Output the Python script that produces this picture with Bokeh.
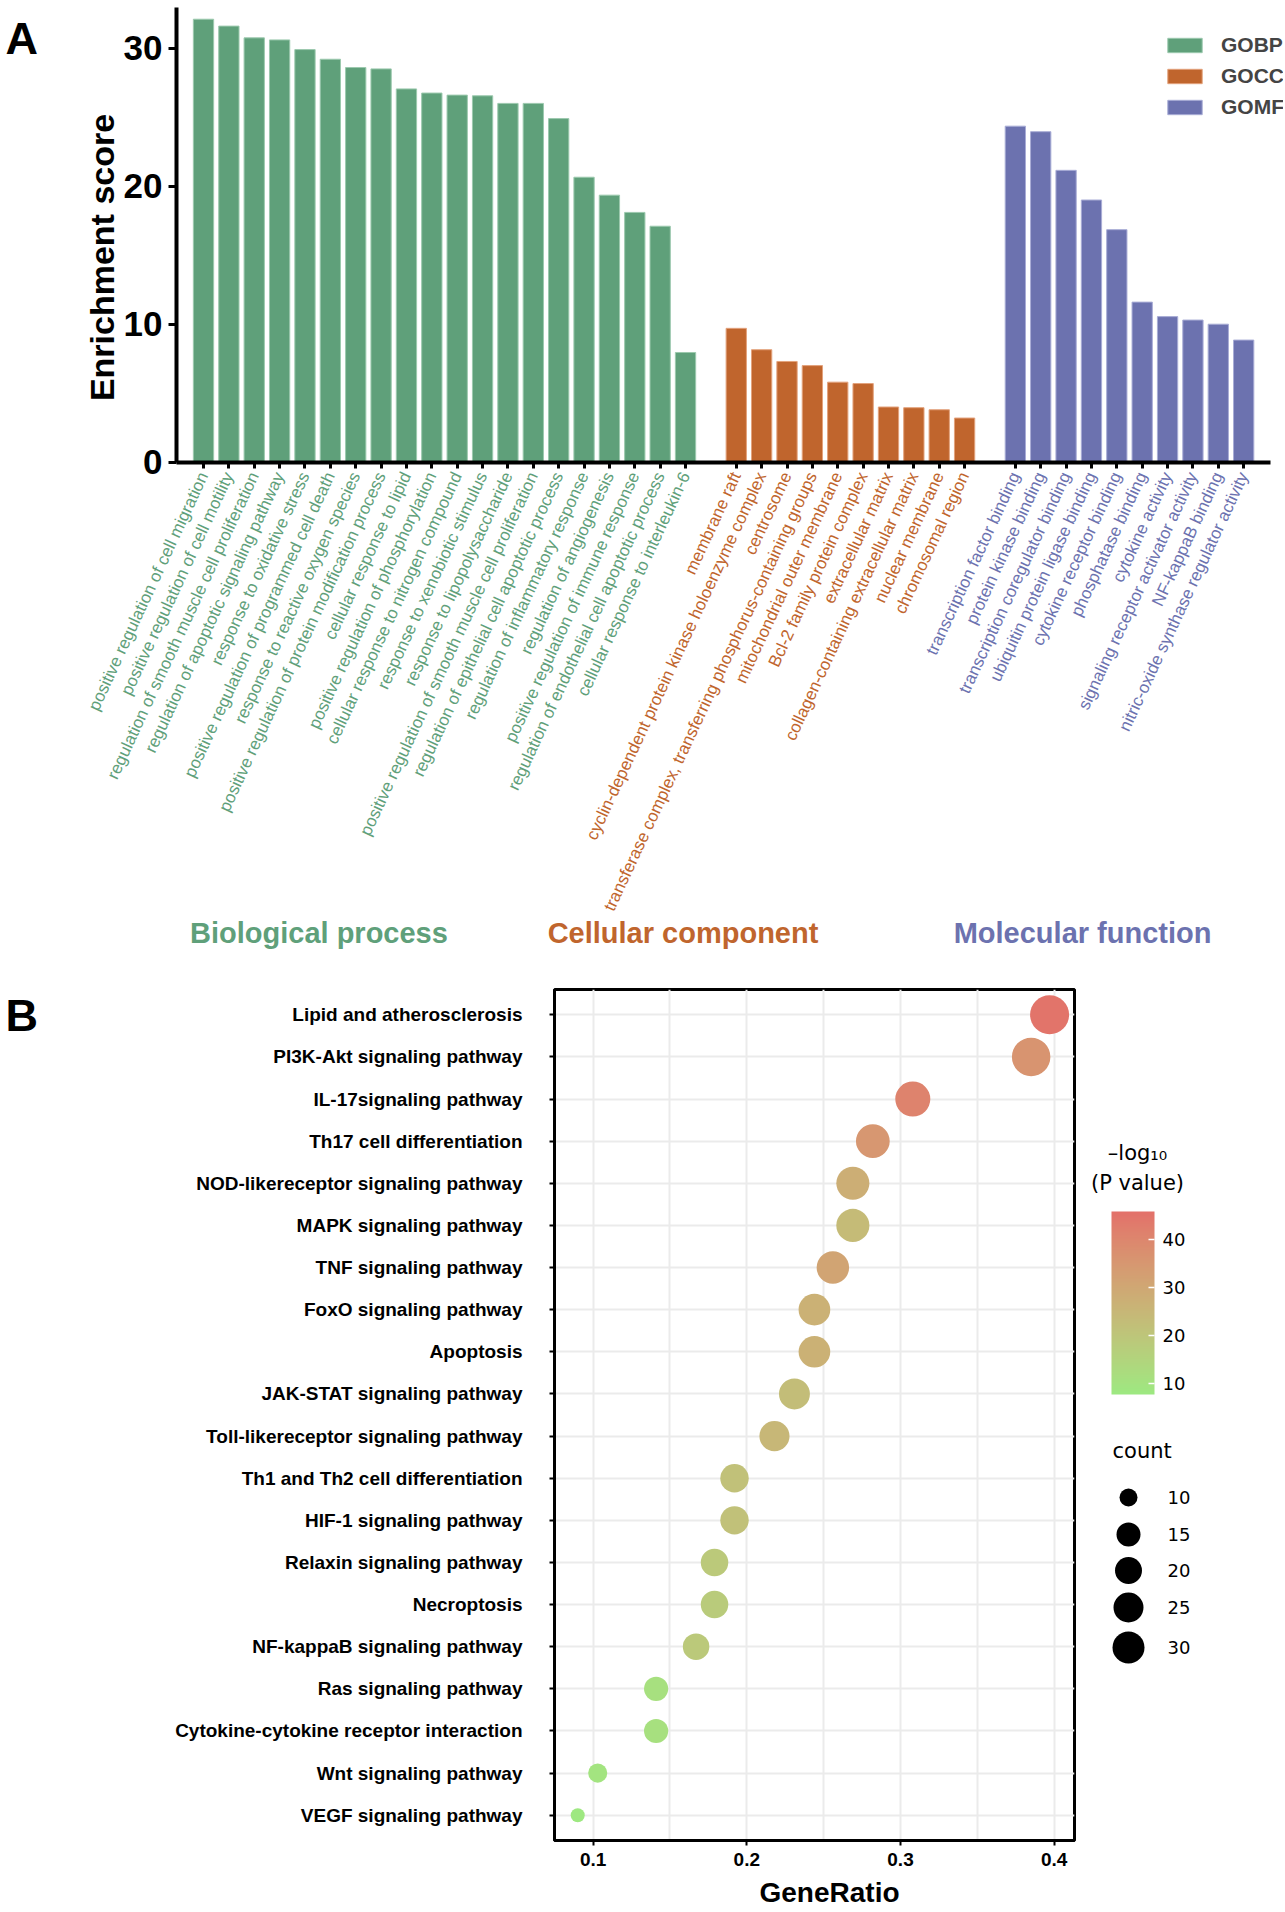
import math
from bokeh.plotting import figure
from bokeh.models import (Range1d, LinearAxis, FixedTicker, ColumnDataSource, Legend, LegendItem,
                          LinearColorMapper, ColorBar)
from bokeh.layouts import column, row
from bokeh.core.properties import value
from bokeh.embed import file_html
from bokeh.resources import INLINE

# ---------------- data: panel A (GO enrichment) ----------------
bp_terms = [
    "positive regulation of cell migration",
    "positive regulation of cell motility",
    "regulation of smooth muscle cell proliferation",
    "regulation of apoptotic signaling pathway",
    "response to oxidative stress",
    "positive regulation of programmed cell death",
    "response to reactive oxygen species",
    "positive regulation of protein modification process",
    "cellular response to lipid",
    "positive regulation of phosphorylation",
    "cellular response to nitrogen compound",
    "response to xenobiotic stimulus",
    "response to lipopolysaccharide",
    "positive regulation of smooth muscle cell proliferation",
    "regulation of epithelial cell apoptotic process",
    "regulation of inflammatory response",
    "regulation of angiogenesis",
    "positive regulation of immune response",
    "regulation of endothelial cell apoptotic process",
    "cellular response to interleukin-6",
]
bp_scores = [32.1, 31.6, 30.75, 30.6, 29.9, 29.2, 28.6, 28.5, 27.05, 26.75,
             26.6, 26.55, 26.0, 26.0, 24.9, 20.65, 19.35, 18.1, 17.1, 7.95]

cc_terms = [
    "membrane raft",
    "cyclin-dependent protein kinase holoenzyme complex",
    "centrosome",
    "transferase complex, transferring phosphorus-containing groups",
    "mitochondrial outer membrane",
    "Bcl-2 family protein complex",
    "extracellular matrix",
    "collagen-containing extracellular matrix",
    "nuclear membrane",
    "chromosomal region",
]
cc_scores = [9.7, 8.15, 7.3, 7.0, 5.8, 5.7, 4.0, 3.95, 3.8, 3.2]

mf_terms = [
    "transcription factor binding",
    "protein kinase binding",
    "transcription coregulator binding",
    "ubiquitin protein ligase binding",
    "cytokine receptor binding",
    "phosphatase binding",
    "cytokine activity",
    "signaling receptor activator activity",
    "NF-kappaB binding",
    "nitric-oxide synthase regulator activity",
]
mf_scores = [24.35, 23.95, 21.15, 19.0, 16.85, 11.6, 10.55, 10.3, 10.0, 8.85]

group_names = ["GOBP", "GOCC", "GOMF"]
group_titles = ["Biological process", "Cellular component", "Molecular function"]
y_ticks_a = [0, 10, 20, 30]

# ---------------- data: panel B (KEGG dot plot) ----------------
pathways = [
    "Lipid and atherosclerosis",
    "PI3K-Akt signaling pathway",
    "IL-17signaling pathway",
    "Th17 cell differentiation",
    "NOD-likereceptor signaling pathway",
    "MAPK signaling pathway",
    "TNF signaling pathway",
    "FoxO signaling pathway",
    "Apoptosis",
    "JAK-STAT signaling pathway",
    "Toll-likereceptor signaling pathway",
    "Th1 and Th2 cell differentiation",
    "HIF-1 signaling pathway",
    "Relaxin signaling pathway",
    "Necroptosis",
    "NF-kappaB signaling pathway",
    "Ras signaling pathway",
    "Cytokine-cytokine receptor interaction",
    "Wnt signaling pathway",
    "VEGF signaling pathway",
]
gene_ratio = [0.397, 0.385, 0.308, 0.282, 0.269, 0.269, 0.256, 0.244, 0.244, 0.231,
              0.218, 0.192, 0.192, 0.179, 0.179, 0.167, 0.141, 0.141, 0.103, 0.090]
counts = [31, 30, 24, 22, 21, 21, 20, 19, 19, 18, 17, 15, 15, 14, 14, 13, 11, 11, 8, 7]
neglog10_p = [45.0, 36.0, 41.0, 35.0, 28.0, 23.5, 31.0, 27.0, 27.0, 23.0,
              25.0, 21.5, 21.5, 19.0, 18.0, 19.0, 11.0, 11.0, 9.5, 8.0]
x_ticks_b = [0.1, 0.2, 0.3, 0.4]
x_minor_b = [0.15, 0.25, 0.35]
cbar_ticks = [10, 20, 30, 40]
size_legend_counts = [10, 15, 20, 25, 30]

# ---------------- styles ----------------
COLORS = ["#5FA07A", "#C0652D", "#6C72AF"]
EDGES = ["#9CC9AE", "#E3A27C", "#A9ADD6"]
LOW_COL, HIGH_COL = "#9DE981", "#E3716A"
P_LOW, P_HIGH = 7.7, 45.8
FONT = "Liberation Sans"
LEGFONT = "DejaVu Sans"

# ---------------- helpers: Lab gradient (ggplot-like) ----------------
def _lin(c):
    return c / 12.92 if c <= 0.04045 else ((c + 0.055) / 1.055) ** 2.4

def _gam(c):
    c = min(max(c, 0.0), 1.0)
    return 12.92 * c if c <= 0.0031308 else 1.055 * c ** (1 / 2.4) - 0.055

def _hex2lab(h):
    r, g, b = [_lin(int(h[i:i + 2], 16) / 255) for i in (1, 3, 5)]
    X = (0.4124 * r + 0.3576 * g + 0.1805 * b) / 0.95047
    Y = (0.2126 * r + 0.7152 * g + 0.0722 * b) / 1.0
    Z = (0.0193 * r + 0.1192 * g + 0.9505 * b) / 1.08883
    f = lambda t: t ** (1 / 3) if t > 0.008856 else 7.787 * t + 16 / 116
    fx, fy, fz = f(X), f(Y), f(Z)
    return (116 * fy - 16, 500 * (fx - fy), 200 * (fy - fz))

def _lab2hex(L, a, b):
    fy = (L + 16) / 116
    fx = fy + a / 500
    fz = fy - b / 200
    finv = lambda t: t ** 3 if t ** 3 > 0.008856 else (t - 16 / 116) / 7.787
    X, Y, Z = finv(fx) * 0.95047, finv(fy), finv(fz) * 1.08883
    r = 3.2406 * X - 1.5372 * Y - 0.4986 * Z
    g = -0.9689 * X + 1.8758 * Y + 0.0415 * Z
    bb = 0.0557 * X - 0.2040 * Y + 1.0570 * Z
    return "#%02x%02x%02x" % tuple(int(round(_gam(v) * 255)) for v in (r, g, bb))

l0, l1 = _hex2lab(LOW_COL), _hex2lab(HIGH_COL)
palette = [_lab2hex(*[l0[k] + (l1[k] - l0[k]) * t / 255 for k in range(3)]) for t in range(256)]

# ================= layout constants (canvas px) =================
W = 1283          # total canvas width
HA = 983          # panel A height
HB = 893          # panel B height (plot + tick labels)
HG = 34           # strip holding the GeneRatio title
PXX = 25.37       # px per bar slot
PXY = 13.8        # px per enrichment unit
X_POS0 = 203.0    # canvas x of bar position 0
Y_ZERO = 461.7    # canvas y of enrichment 0
AXIS_X = 176.0    # canvas x of the y axis

# ================= PANEL A =================
xr0 = -X_POS0 / PXX
xr1 = (W - X_POS0) / PXX
yr1 = Y_ZERO / PXY
yr0 = -(HA - Y_ZERO) / PXY
x_axis_pos = (AXIS_X - X_POS0) / PXX

def ax_x(px):
    return (px - X_POS0) / PXX

def ax_y(px):
    return (Y_ZERO - px) / PXY

pA = figure(width=W, height=HA, x_range=Range1d(xr0, xr1), y_range=Range1d(yr0, yr1),
            min_border_left=0, min_border_right=0, min_border_top=0, min_border_bottom=0,
            toolbar_location=None, output_backend="svg",
            x_axis_location=None, y_axis_location=None)
pA.outline_line_color = None
pA.xgrid.visible = False
pA.ygrid.visible = False

groups_terms = [bp_terms, cc_terms, mf_terms]
groups_scores = [bp_scores, cc_scores, mf_scores]
renderers, group_x = [], []
start = 0
for gi in range(3):
    xs = [start + i for i in range(len(groups_terms[gi]))]
    src = ColumnDataSource(dict(x=xs, top=groups_scores[gi]))
    r = pA.vbar(x="x", top="top", bottom=0, width=0.8, source=src,
                fill_color=COLORS[gi], line_color=EDGES[gi], line_width=1)
    renderers.append(r)
    group_x.append(xs)
    start = xs[-1] + 2
last_x = group_x[-1][-1]

# y axis drawn at the left edge of the bar area
yax = LinearAxis(fixed_location=x_axis_pos, bounds=(0, ax_y(7)), ticker=FixedTicker(ticks=y_ticks_a))
yax.axis_line_width = 4
yax.major_tick_line_width = 3
yax.major_tick_out = 8
yax.major_tick_in = 0
yax.minor_tick_line_color = None
yax.major_label_standoff = 6
yax.major_label_text_font = FONT
yax.major_label_text_font_style = "bold"
yax.major_label_text_font_size = "35px"
yax.major_label_text_color = "black"
pA.add_layout(yax, "left")

pA.text(x=[ax_x(101)], y=[ax_y(257)], text=["Enrichment score"], angle=math.pi / 2,
        text_align="center", text_baseline="middle", text_font=value(FONT),
        text_font_style="bold", text_font_size="34px", text_color="black")

# x axes at y = 0, one per GO category so each has its own label colour
for gi in range(3):
    xs = group_x[gi]
    if gi == 0:
        bounds = (x_axis_pos, last_x - x_axis_pos)
    else:
        bounds = (xs[0] - 0.5, xs[-1] + 0.5)
    ax = LinearAxis(fixed_location=0, bounds=bounds, ticker=FixedTicker(ticks=xs),
                    major_label_overrides={xs[i]: groups_terms[gi][i] for i in range(len(xs))})
    ax.axis_line_color = "black" if gi == 0 else None
    ax.axis_line_width = 4
    ax.major_tick_out = 6
    ax.major_tick_in = 0
    ax.major_tick_line_width = 3
    ax.minor_tick_line_color = None
    ax.major_label_orientation = math.radians(65)
    ax.major_label_standoff = 5
    ax.major_label_text_font = FONT
    ax.major_label_text_font_size = "17px"
    ax.major_label_text_color = COLORS[gi]
    pA.add_layout(ax, "below")

# group titles
gt_x = [4.55, 18.9, 34.65]
gt_src = ColumnDataSource(dict(x=gt_x, y=[ax_y(932)] * 3, text=group_titles, color=COLORS))
pA.text(x="x", y="y", text="text", text_color="color", source=gt_src,
        text_align="center", text_baseline="middle",
        text_font=value(FONT), text_font_style="bold", text_font_size="29px")

# panel letter
pA.text(x=[ax_x(5)], y=[ax_y(38)], text=["A"], text_align="left", text_baseline="middle",
        text_font=value(FONT), text_font_style="bold", text_font_size="45px", text_color="black")

leg = Legend(items=[LegendItem(label=group_names[i], renderers=[renderers[i]]) for i in range(3)],
             location=(1163, HA - 119))
leg.glyph_width = 43
leg.glyph_height = 18
leg.label_height = 18
leg.spacing = 7
leg.padding = 0
leg.margin = 0
leg.label_standoff = 15
leg.label_text_font = FONT
leg.label_text_font_style = "bold"
leg.label_text_font_size = "21px"
leg.border_line_color = None
leg.background_fill_alpha = 0
pA.add_layout(leg)

# ================= PANEL B =================
LW = 60
B_LEFT, B_RIGHT, B_TOP, B_BOTTOM = 494, 14, 6, 36
PXB = 1537.0
FRAME_W = 520
WB = B_LEFT + FRAME_W + B_RIGHT
WL = W - LW - WB
xb0 = 0.1 - 38.6 / PXB
xb1 = xb0 + FRAME_W / PXB
n = len(pathways)
yb0, yb1 = -0.6, n - 1 + 0.6
ypos = [n - 1 - i for i in range(n)]
yrange_b = Range1d(yb0, yb1)
PXYB = (HB - B_TOP - B_BOTTOM) / (yb1 - yb0)

def yd(px):
    """canvas px (from the top of panel B) -> panel B y data value"""
    return yb1 - (px - B_TOP) / PXYB

pB = figure(width=WB, height=HB, x_range=Range1d(xb0, xb1), y_range=yrange_b,
            min_border_left=B_LEFT, min_border_right=B_RIGHT, min_border_top=B_TOP,
            min_border_bottom=B_BOTTOM, toolbar_location=None, output_backend="svg")
pB.outline_line_color = "black"
pB.outline_line_width = 3

xt = FixedTicker(ticks=x_ticks_b, minor_ticks=x_minor_b)
yt = FixedTicker(ticks=ypos)
pB.xaxis.ticker = xt
pB.yaxis.ticker = yt
pB.xgrid.ticker = xt
pB.ygrid.ticker = yt
for g in (pB.xgrid, pB.ygrid):
    g.grid_line_color = "#EBEBEB"
    g.grid_line_width = 2
pB.xgrid.minor_grid_line_color = "#EBEBEB"
pB.xgrid.minor_grid_line_width = 2

pB.yaxis.major_label_overrides = {ypos[i]: pathways[i] for i in range(n)}
for ax in (pB.xaxis[0], pB.yaxis[0]):
    ax.axis_line_color = "black"
    ax.axis_line_width = 3
    ax.major_tick_out = 5
    ax.major_tick_in = 0
    ax.major_tick_line_width = 2
    ax.minor_tick_line_color = None
    ax.major_label_text_font = FONT
    ax.major_label_text_font_style = "bold"
    ax.major_label_text_color = "black"
pB.yaxis.major_label_text_font_size = "19px"
pB.yaxis.major_label_standoff = 27
pB.xaxis.major_label_text_font_size = "19px"
pB.xaxis.major_label_standoff = 7

cmap = LinearColorMapper(palette=palette, low=P_LOW, high=P_HIGH)
cmin, cmax = min(counts), max(counts)
D_MIN, D_MAX = 14.0, 39.0
sizes = [D_MIN + (D_MAX - D_MIN) * math.sqrt((c - cmin) / (cmax - cmin)) for c in counts]
dsrc = ColumnDataSource(dict(x=gene_ratio, y=ypos, size=sizes, p=neglog10_p, count=counts,
                             name=pathways))
pB.scatter(x="x", y="y", size="size", source=dsrc,
           fill_color={"field": "p", "transform": cmap}, line_color=None)


def side(width):
    f = figure(width=width, height=HB, x_range=Range1d(0, width), y_range=yrange_b,
               min_border_left=0, min_border_right=0, min_border_top=B_TOP,
               min_border_bottom=B_BOTTOM, toolbar_location=None, output_backend="svg",
               x_axis_location=None, y_axis_location=None)
    f.outline_line_color = None
    f.xgrid.visible = False
    f.ygrid.visible = False
    return f

# panel letter B (kept fully inside its frame)
fB = side(LW)
fB.text(x=[5], y=[yd(32)], text=["B"], text_align="left", text_baseline="middle",
        text_font=value(FONT), text_font_style="bold", text_font_size="45px", text_color="black")

# legends (positions in px measured from the top-left of this column)
pL = side(WL)
cb = ColorBar(color_mapper=cmap, ticker=FixedTicker(ticks=cbar_ticks), width=43, height=183,
              location=(23, (HB - B_BOTTOM) - 411), padding=0, margin=0,
              major_tick_line_color="white", major_tick_in=6, major_tick_out=0,
              major_tick_line_width=1.5, minor_tick_line_color=None, bar_line_color=None,
              label_standoff=8, major_label_text_font=LEGFONT, major_label_text_font_size="18px",
              major_label_text_color="black", background_fill_alpha=0)
pL.add_layout(cb)

pL.text(x=[49, 49], y=[yd(169), yd(199)], text=["\u2013log\u2081\u2080", "(P value)"],
        text_align="center", text_baseline="middle", text_font=value(LEGFONT),
        text_font_size="21px", text_color="black")
pL.text(x=[24], y=[yd(467)], text=["count"], text_align="left", text_baseline="middle",
        text_font=value(LEGFONT), text_font_size="21px", text_color="black")
leg_sizes = [18, 24, 27, 30, 32]
leg_y = [yd(v) for v in (514, 551, 587, 624, 664)]
pL.scatter(x=[40] * len(leg_sizes), y=leg_y, size=leg_sizes, fill_color="black", line_color=None)
pL.text(x=[79] * len(leg_sizes), y=leg_y, text=[str(c) for c in size_legend_counts],
        text_align="left", text_baseline="middle", text_font=value(LEGFONT),
        text_font_size="18px", text_color="black")

# x-axis title of panel B
pG = figure(width=W, height=HG, x_range=Range1d(0, W), y_range=Range1d(0, HG),
            min_border_left=0, min_border_right=0, min_border_top=0, min_border_bottom=0,
            toolbar_location=None, output_backend="svg",
            x_axis_location=None, y_axis_location=None)
pG.outline_line_color = None
pG.xgrid.visible = False
pG.ygrid.visible = False
pG.text(x=[829], y=[HG - 16], text=["GeneRatio"], text_align="center", text_baseline="middle",
        text_font=value(FONT), text_font_style="bold", text_font_size="28px", text_color="black")

layout = column(pA, row(fB, pB, pL), pG)
open("out.html", "w").write(file_html(layout, INLINE))
